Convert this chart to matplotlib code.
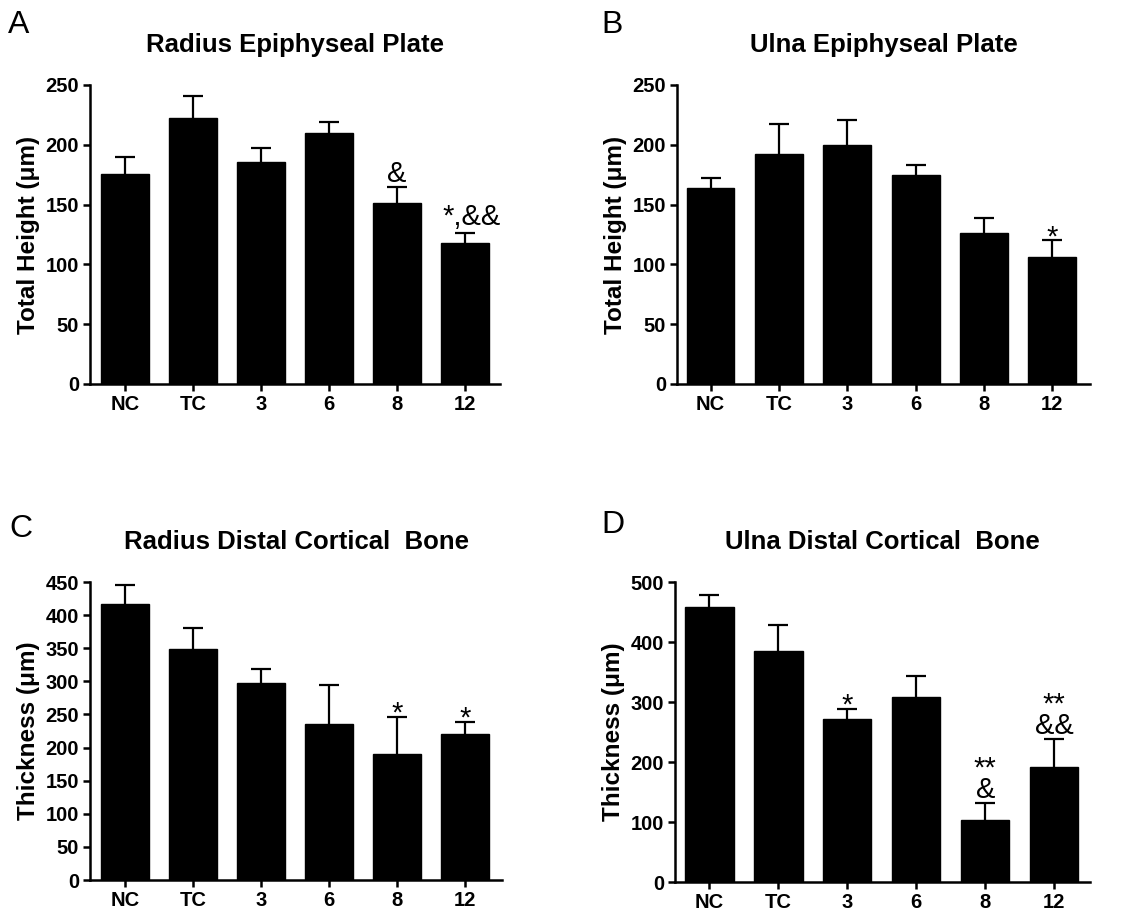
import matplotlib
matplotlib.use("Agg")
import matplotlib.pyplot as plt
import numpy as np

plt.rcParams['font.family'] = ['Liberation Sans', 'DejaVu Sans']

categories = ["NC", "TC", "3", "6", "8", "12"]

# Panel A: Radius Epiphyseal Plate
a_mean = [176, 222, 186, 210, 151, 118]
a_err = [14, 19, 11, 9, 14, 8]
a_ann = ["", "", "", "", "&", "*,&&"]

# Panel B: Ulna Epiphyseal Plate
b_mean = [164, 192, 200, 175, 126, 106]
b_err = [8, 25, 21, 8, 13, 14]
b_ann = ["", "", "", "", "", "*"]

# Panel C: Radius Distal Cortical Bone
c_mean = [417, 349, 298, 235, 190, 221]
c_err = [28, 32, 21, 59, 56, 18]
c_ann = ["", "", "", "", "*", "*"]

# Panel D: Ulna Distal Cortical Bone
d_mean = [458, 385, 272, 308, 104, 192]
d_err = [21, 44, 17, 36, 27, 46]
d_ann = ["", "", "*", "", "**\n&", "**\n&&"]

W, H = 1139, 917
panels = [
    dict(letter="A", title="Radius Epiphyseal Plate", ylabel="Total Height (\u03bcm)",
         mean=a_mean, err=a_err, ann=a_ann, ymax=250, step=50,
         rect=[90, 85, 500, 384], xl=(-0.515, 5.515), lpos=(8, 33)),
    dict(letter="B", title="Ulna Epiphyseal Plate", ylabel="Total Height (\u03bcm)",
         mean=b_mean, err=b_err, ann=b_ann, ymax=250, step=50,
         rect=[677, 85, 1090, 384], xl=(-0.49, 5.55), lpos=(601, 33)),
    dict(letter="C", title="Radius Distal Cortical  Bone", ylabel="Thickness (\u03bcm)",
         mean=c_mean, err=c_err, ann=c_ann, ymax=450, step=50,
         rect=[90, 582, 502, 880], xl=(-0.515, 5.54), lpos=(9, 537)),
    dict(letter="D", title="Ulna Distal Cortical  Bone", ylabel="Thickness (\u03bcm)",
         mean=d_mean, err=d_err, ann=d_ann, ymax=500, step=100,
         rect=[675, 582, 1090, 882], xl=(-0.5, 5.52), lpos=(601, 533)),
]

PT = 72 / 100.0  # points per pixel


def annotate(ax, x, y, text):
    if text.startswith("*,"):
        base_px, dx_px = 8.0, 7
    elif "&" in text:
        base_px, dx_px = 5.0, 0
    else:
        base_px, dx_px = -4.8, 0
    ax.annotate(text, xy=(x, y), xytext=(dx_px * PT, base_px * PT),
                textcoords="offset points", ha="center", va="baseline",
                fontsize=21, linespacing=0.72, multialignment="center")


fig = plt.figure(figsize=(W / 100, H / 100), dpi=100)

for p in panels:
    l, t, r, b = p["rect"]
    ax = fig.add_axes([l / W, 1 - b / H, (r - l) / W, (b - t) / H])
    x = np.arange(len(categories))
    ax.bar(x, p["mean"], width=0.7, color="black", edgecolor="black", zorder=2)
    eb = ax.errorbar(x, p["mean"], yerr=[np.zeros(len(x)), p["err"]], fmt="none",
                     ecolor="black", elinewidth=1.6, capsize=7.5, capthick=1.6, zorder=3)
    eb[1][0].set_visible(False)
    for xi, m, e, txt in zip(x, p["mean"], p["err"], p["ann"]):
        if txt:
            annotate(ax, xi, m + e, txt)
    ax.set_xlim(*p["xl"])
    ax.set_ylim(0, p["ymax"])
    ax.set_yticks(np.arange(0, p["ymax"] + 1, p["step"]))
    ax.set_xticks(x)
    ax.set_xticklabels(categories)
    for s in ["top", "right"]:
        ax.spines[s].set_visible(False)
    for s in ["left", "bottom"]:
        ax.spines[s].set_linewidth(1.8)
    ax.tick_params(axis="both", direction="out", length=5, width=1.8, labelsize=14.5, pad=3)
    for lab in ax.get_xticklabels() + ax.get_yticklabels():
        lab.set_fontweight("bold")
    ax.set_ylabel(p["ylabel"], fontsize=17.5, fontweight="bold", labelpad=4)
    ax.set_title(p["title"], fontsize=18.5, fontweight="bold", pad=24)
    lx, ly = p["lpos"]
    fig.text(lx / W, 1 - ly / H, p["letter"], fontsize=23, ha="left", va="baseline")

fig.savefig("out.png", dpi=100)
